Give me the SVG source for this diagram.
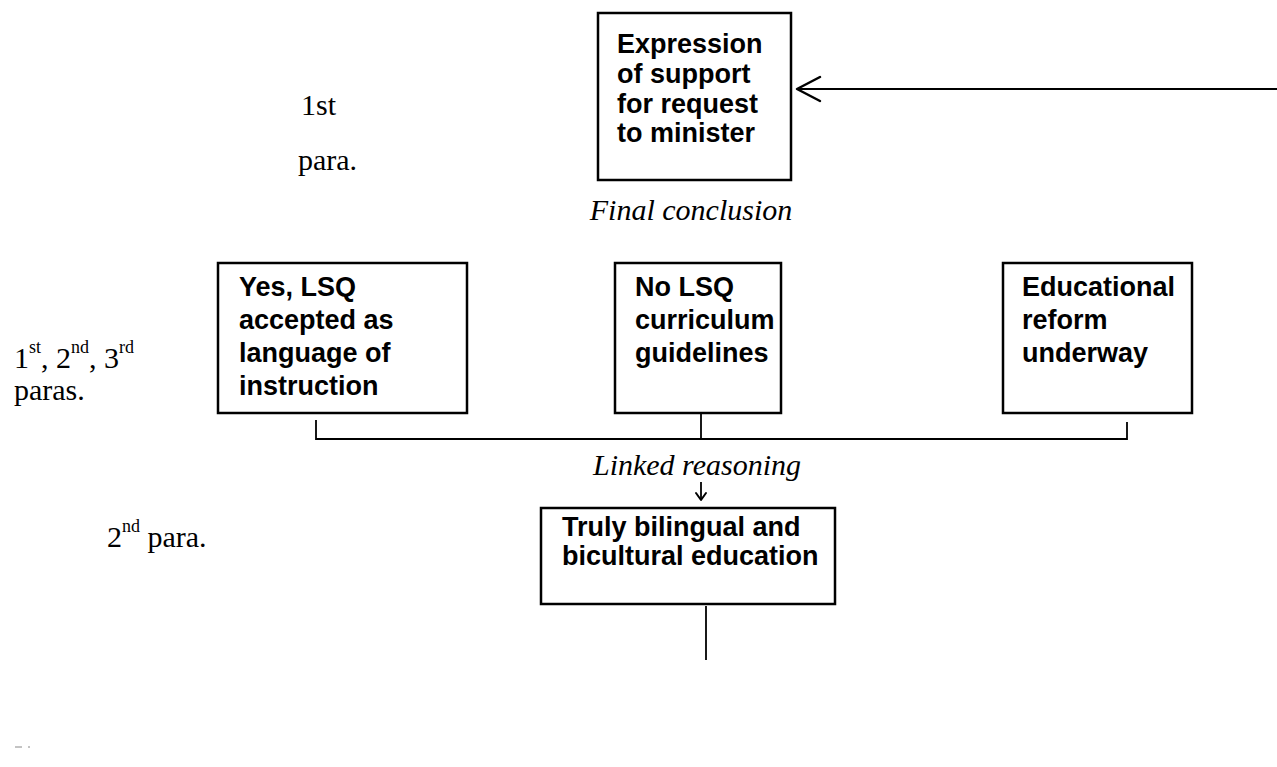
<svg xmlns="http://www.w3.org/2000/svg" width="1277" height="767" viewBox="0 0 1277 767">
  <defs>
    <style>
      .box { fill: #ffffff; stroke: #000000; stroke-width: 2.5; }
      .lbl { font-family: "Liberation Sans", Arial, sans-serif; font-weight: bold; font-size: 27px; fill: #000000; }
      .note { font-family: "Liberation Serif", "Times New Roman", serif; font-size: 30px; fill: #000000; }
      .cap { font-family: "Liberation Serif", "Times New Roman", serif; font-style: italic; font-size: 30px; fill: #000000; }
      .sup { font-size: 18px; }
      .wire { fill: none; stroke: #000000; stroke-width: 1.8; }
      .head { fill: none; stroke: #000000; stroke-width: 2.5; stroke-linecap: round; stroke-linejoin: round; }
    </style>
  </defs>
  <rect width="1277" height="767" fill="#ffffff"/>

  <!-- paragraph references -->
  <g id="para-notes">
    <text class="note" x="301" y="115">1st</text>
    <text class="note" x="298" y="170">para.</text>
    <text class="note" x="14" y="368">1<tspan class="sup" dy="-15">st</tspan><tspan dy="15">, 2</tspan><tspan class="sup" dy="-15">nd</tspan><tspan dy="15">, 3</tspan><tspan class="sup" dy="-15">rd</tspan></text>
    <text class="note" x="14" y="400">paras.</text>
    <text class="note" x="107" y="547">2<tspan class="sup" dy="-15">nd</tspan><tspan dy="15"> para.</tspan></text>
  </g>

  <!-- conclusion -->
  <g id="conclusion">
    <rect class="box" x="598" y="13" width="193" height="167"/>
    <text class="lbl" x="617" y="53">Expression</text>
    <text class="lbl" x="617" y="83">of support</text>
    <text class="lbl" x="617" y="113">for request</text>
    <text class="lbl" x="617" y="142">to minister</text>
    <text class="cap" x="691" y="220" text-anchor="middle">Final conclusion</text>
  </g>

  <!-- premises -->
  <g id="premise-lsq-accepted">
    <rect class="box" x="218" y="263" width="249" height="150"/>
    <text class="lbl" x="239" y="296">Yes, LSQ</text>
    <text class="lbl" x="239" y="329">accepted as</text>
    <text class="lbl" x="239" y="362">language of</text>
    <text class="lbl" x="239" y="395">instruction</text>
  </g>
  <g id="premise-no-guidelines">
    <rect class="box" x="615" y="263" width="166" height="150"/>
    <text class="lbl" x="635" y="296">No LSQ</text>
    <text class="lbl" x="635" y="329">curriculum</text>
    <text class="lbl" x="635" y="362">guidelines</text>
  </g>
  <g id="premise-reform">
    <rect class="box" x="1003" y="263" width="189" height="150"/>
    <text class="lbl" x="1022" y="296">Educational</text>
    <text class="lbl" x="1022" y="329">reform</text>
    <text class="lbl" x="1022" y="362">underway</text>
  </g>

  <!-- intermediate conclusion -->
  <g id="bilingual">
    <rect class="box" x="541" y="508" width="294" height="96"/>
    <text class="lbl" x="562" y="536">Truly bilingual and</text>
    <text class="lbl" x="562" y="565">bicultural education</text>
  </g>

  <g id="linked-label">
    <text class="cap" x="697" y="475" text-anchor="middle">Linked reasoning</text>
  </g>

  <!-- connectors -->
  <g id="connectors">
    <path class="wire" d="M1277 89 H797"/>
    <path class="head" d="M820 77 L797 89 L820 101"/>
    <path class="wire" d="M316 420 V439 H1127 V422"/>
    <path class="wire" d="M701 413 V439"/>
    <path class="wire" d="M701 482 V499"/>
    <path class="head" d="M696 493 L701 500 L706 493" style="stroke-width:2"/>
    <path class="wire" d="M706 606 V660"/>
    <path d="M15 747 H22 M28 747 H30" stroke="#888888" stroke-width="1"/>
  </g>
</svg>
